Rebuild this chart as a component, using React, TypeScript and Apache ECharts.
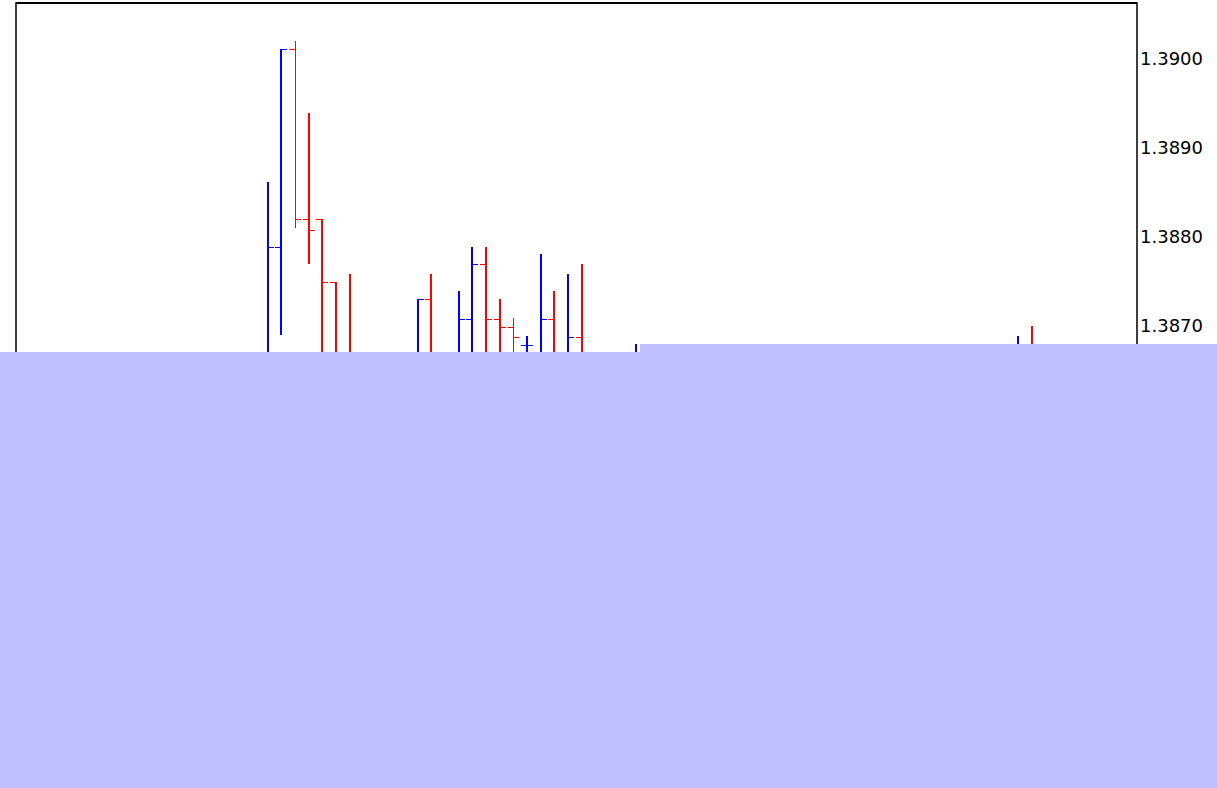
import React, { useEffect, useRef } from "react";
import * as echarts from "echarts";

// Bar slot index (position along the time axis) and OHLC values
const SLOTS = [0, 1, 2, 3, 4, 5, 6, 11, 12, 14, 15, 16, 17, 18, 19, 20, 21, 22, 23, 27, 55, 56];
const OPEN = [1.3862, 1.38788, 1.3901, 1.38819, 1.38819, 1.38749, 1.3866, 1.3865, 1.38729, 1.3864, 1.38707, 1.38769, 1.38707, 1.38698, 1.38678, 1.3866, 1.38707, 1.3864, 1.38687, 1.3862, 1.3864, 1.3867];
const CLOSE = [1.38788, 1.3901, 1.38819, 1.38807, 1.38749, 1.3865, 1.3863, 1.38729, 1.3864, 1.38707, 1.38769, 1.38707, 1.38698, 1.38687, 1.38678, 1.38707, 1.3865, 1.38687, 1.3864, 1.3866, 1.3867, 1.3865];
const LOW = [1.3858, 1.38689, 1.38809, 1.38769, 1.3864, 1.3862, 1.386, 1.3862, 1.3861, 1.3862, 1.3866, 1.3866, 1.3866, 1.3866, 1.3866, 1.3864, 1.3863, 1.3862, 1.3862, 1.386, 1.3862, 1.3863];
const HIGH = [1.38861, 1.3901, 1.39019, 1.38939, 1.38819, 1.38749, 1.38758, 1.38729, 1.38758, 1.38739, 1.38788, 1.38788, 1.3873, 1.38708, 1.38688, 1.3878, 1.38739, 1.38758, 1.38769, 1.38679, 1.38688, 1.38699];

const THIN_SLOTS = [2, 18];
const UP_COLOR = "#0000ff";
const DOWN_COLOR = "#ff0000";
const OVERLAY = "#c0c0ff";

export default function App() {
  const ref = useRef<HTMLDivElement>(null);
  useEffect(() => {
    if (!ref.current) return;
    const chart = echarts.init(ref.current, undefined, { renderer: "svg" });
    const data = SLOTS.map((s, i) => [s, OPEN[i], CLOSE[i], LOW[i], HIGH[i]]);
    chart.setOption({
      animation: false,
      backgroundColor: "#ffffff",
      grid: {
        left: 16,
        right: 80,
        top: 3,
        bottom: 17.7,
        show: true,
        borderColor: "#000",
        borderWidth: 1.5,
        backgroundColor: "transparent",
      },
      xAxis: { type: "value", min: -18.46, max: 63.72, show: false },
      yAxis: {
        type: "value",
        position: "right",
        min: 1.382,
        max: 1.390621,
        interval: 0.001,
        axisLine: { show: false },
        axisTick: { show: false },
        splitLine: { show: false },
        axisLabel: {
          formatter: (v: number) => v.toFixed(4),
          fontFamily: "DejaVu Sans",
          fontSize: 18,
          color: "#000",
          margin: 3,
          showMaxLabel: false,
        },
      },
      series: [
        {
          type: "custom",
          data,
          encode: { x: 0, y: [1, 2, 3, 4] },
          renderItem: (params: any, api: any) => {
            const x = api.value(0);
            const ov = api.value(1);
            const cv = api.value(2);
            const o = api.coord([x, ov]);
            const c = api.coord([x, cv]);
            const l = api.coord([x, api.value(3)]);
            const h = api.coord([x, api.value(4)]);
            const color = cv >= ov ? UP_COLOR : DOWN_COLOR;
            const thin = THIN_SLOTS.includes(x);
            const w = thin ? 1 : 2;
            const px = thin ? Math.round(h[0]) + 0.5 : Math.round(h[0]);
            const oy = Math.round(o[1]) + 0.5;
            const cy = Math.round(c[1]) + 0.5;
            const t = 6;
            return {
              type: "group",
              children: [
                { type: "line", shape: { x1: px, y1: Math.round(h[1]), x2: px, y2: Math.round(l[1]) }, style: { stroke: color, lineWidth: w } },
                { type: "line", shape: { x1: px - t, y1: oy, x2: px, y2: oy }, style: { stroke: color, lineWidth: 1 } },
                { type: "line", shape: { x1: px, y1: cy, x2: px + t, y2: cy }, style: { stroke: color, lineWidth: 1 } },
              ],
            };
          },
        },
      ],
      graphic: [
        { type: "line", z: 50, shape: { x1: 16, y1: 3, x2: 1137, y2: 3 }, style: { stroke: "#000", lineWidth: 2 } },
        { type: "rect", z: 100, shape: { x: 0, y: 352, width: 640, height: 436 }, style: { fill: OVERLAY } },
        { type: "rect", z: 100, shape: { x: 640, y: 344, width: 577, height: 444 }, style: { fill: OVERLAY } },
      ],
    });
    return () => chart.dispose();
  }, []);
  return <div ref={ref} style={{ position: "absolute", left: 0, top: 0, width: 1217, height: 788 }} />;
}
